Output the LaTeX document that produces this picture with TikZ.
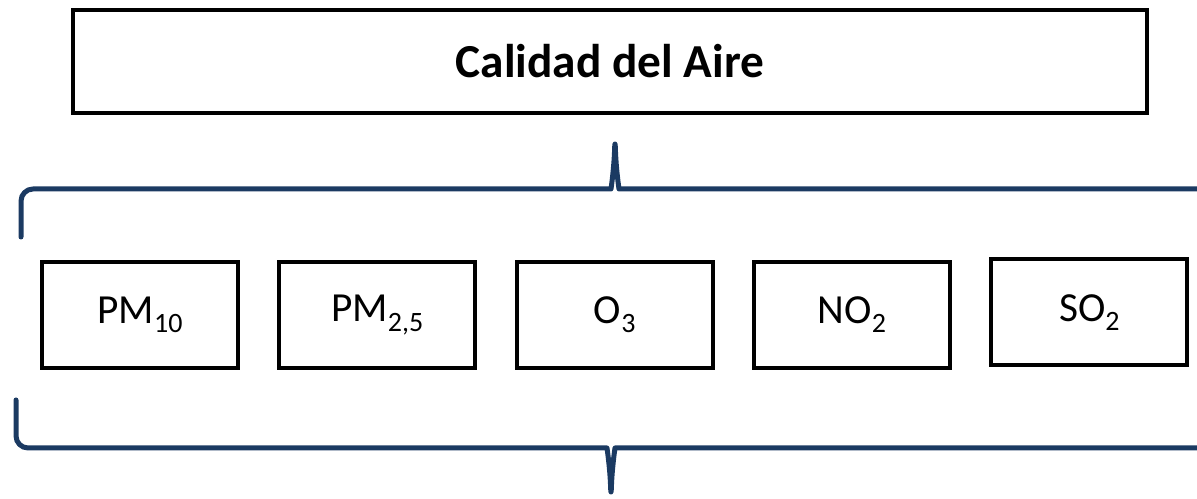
\documentclass[tikz,border=0pt]{standalone}
\usepackage{fontspec}
\setmainfont{Carlito}
\definecolor{braceBlue}{HTML}{1B3A62}
\usetikzlibrary{positioning}
\newcommand{\lowidx}[1]{\raisebox{-0.22em}{\fontsize{21}{21}\selectfont #1}}

\begin{document}
\begin{tikzpicture}[x=0.75pt, y=0.75pt,
  pbox/.style={draw=black, line width=3pt, minimum width=147pt, minimum height=79.5pt,
    inner sep=0pt, outer sep=0pt, font=\fontsize{31}{31}\selectfont},
  brace/.style={draw=braceBlue, line width=3.75pt, line cap=round, line join=round,
    rounded corners=9pt}]
  \useasboundingbox (0,0) rectangle (1197,499);
  \clip (0,0) rectangle (1197,499);
  % title
  \node[draw=black, line width=3pt, minimum width=805.5pt, minimum height=77.25pt,
    font=\fontsize{35.5}{35.5}\selectfont\bfseries] (title) at (610,437.5) {Calidad del Aire};
  % pollutants
  \node[pbox] (pm10) at (140,184) {PM\lowidx{10}};
  \node[pbox, right=31pt of pm10] (pm25) {PM\lowidx{2,5}};
  \node[pbox, right=31pt of pm25] (o3) {O\lowidx{3}};
  \node[pbox, right=31pt of o3] (no2) {NO\lowidx{2}};
  \node[pbox, right=31pt of no2, yshift=2pt] (so2) {SO\lowidx{2}};
  % braces
  \draw[brace] (21,262) -- (21,310) -- (599,310)
    .. controls (611,310) and (614,330) .. (615,362)
    .. controls (616,330) and (619,310) .. (631,310) -- (1212,310) -- (1212,262);
  \draw[brace] (16,99) -- (16,51) -- (595,51)
    .. controls (607,51) and (610,31) .. (611,0)
    .. controls (612,31) and (615,51) .. (627,51) -- (1212,51) -- (1212,99);
\end{tikzpicture}
\end{document}
